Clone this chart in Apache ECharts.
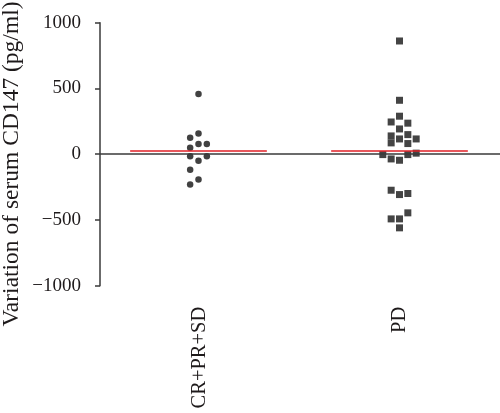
<!DOCTYPE html>
<html>
<head>
<meta charset="utf-8">
<script src="https://cdn.jsdelivr.net/npm/echarts@6/dist/echarts.min.js"></script>
<style>html,body{margin:0;padding:0;background:#fff;}#c{width:500px;height:413px;}</style>
</head>
<body>
<div id="c"></div>
<script>
// ---- data ----
var categories = ['CR+PR+SD', 'PD'];
var yTicks = [-1000, -500, 0, 500, 1000];
var yTitle = 'Variation of serum CD147 (pg/ml)';
// values (pg/ml) and horizontal jitter column per point
var group1Values = [458, 157, 126, 50, 78, 78, -15, -15, -49, -119, -193, -231];
var group1Column = [0, 0, -1, -1, 0, 1, -1, 1, 0, -1, 0, -1];
var group2Values = [861, 410, 289, 245, 236, 192, 139, 149, 116, 116, 86, 81, -3, -3, 8, -36, -46, -274, -307, -299, -446, -492, -492, -560];
var group2Column = [0, 0, 0, -1, 1, 0, -1, 1, 0, 2, -1, 1, -2, 1, 2, -1, 0, -1, 0, 1, 1, -1, 0, 0];
var groupMedians = [30, 30];

// ---- styling constants ----
var STEP = 0.0415;      // jitter column width in x units
var HALF = 0.34;        // half width of median bar in x units
var FONT = '"Liberation Serif", "Times New Roman", serif';
var TXT = '#1e1a1b';
var AX = '#3a3a3a';

function pts(vals, cols, gi) {
  return vals.map(function (v, i) { return [gi + 0.5 + cols[i] * STEP, v]; });
}
function medianLine(gi) {
  var c = gi + 0.5;
  return [{ coord: [c - HALF, groupMedians[gi]] }, { coord: [c + HALF, groupMedians[gi]] }];
}

var chart = echarts.init(document.getElementById('c'), null, { renderer: 'canvas' });
chart.setOption({
  animation: false,
  backgroundColor: '#fff',
  grid: { left: 100, right: 0, top: 22.7, bottom: 127.3, containLabel: false },
  xAxis: [
    { type: 'value', min: 0.01, max: 2, show: false },
    {
      type: 'category', data: categories, position: 'bottom', boundaryGap: true,
      axisLine: { show: false }, axisTick: { show: false }, splitLine: { show: false },
      axisLabel: { rotate: 90, margin: 21, fontFamily: FONT, fontSize: 20.5, color: TXT, padding: [0, 0, 12, 0] }
    }
  ],
  yAxis: {
    type: 'value', min: yTicks[0], max: yTicks[yTicks.length - 1], interval: 500,
    axisLine: { show: true, lineStyle: { color: AX, width: 1.5 } },
    axisTick: { show: true, length: 5, lineStyle: { color: AX, width: 1.5 } },
    splitLine: { show: false },
    axisLabel: {
      margin: 19, fontFamily: FONT, fontSize: 19, color: TXT,
      formatter: function (v) { return v < 0 ? '\u2212' + Math.abs(v) : String(v); }
    }
  },
  series: [
    {
      type: 'scatter', xAxisIndex: 0, symbol: 'circle', symbolSize: 6.5,
      itemStyle: { color: '#111111' },
      data: pts(group1Values, group1Column, 0),
      markLine: {
        silent: true, symbol: 'none', label: { show: false },
        lineStyle: { color: AX, width: 1.6, type: 'solid' },
        data: [{ yAxis: 0 }]
      },
      z: 3
    },
    {
      type: 'scatter', xAxisIndex: 0, symbol: 'rect', symbolSize: 7,
      itemStyle: { color: '#151515' },
      data: pts(group2Values, group2Column, 1),
      markLine: {
        silent: true, symbol: 'none', label: { show: false },
        lineStyle: { color: '#e11f26', width: 1.6, type: 'solid' },
        data: [medianLine(0), medianLine(1)]
      },
      z: 3
    }
  ],
  graphic: [{
    type: 'text', x: 12, y: 164, rotation: Math.PI / 2,
    style: { text: yTitle, font: '23.5px ' + FONT, fill: TXT, align: 'center', verticalAlign: 'middle' }
  }]
});
</script>
</body>
</html>
